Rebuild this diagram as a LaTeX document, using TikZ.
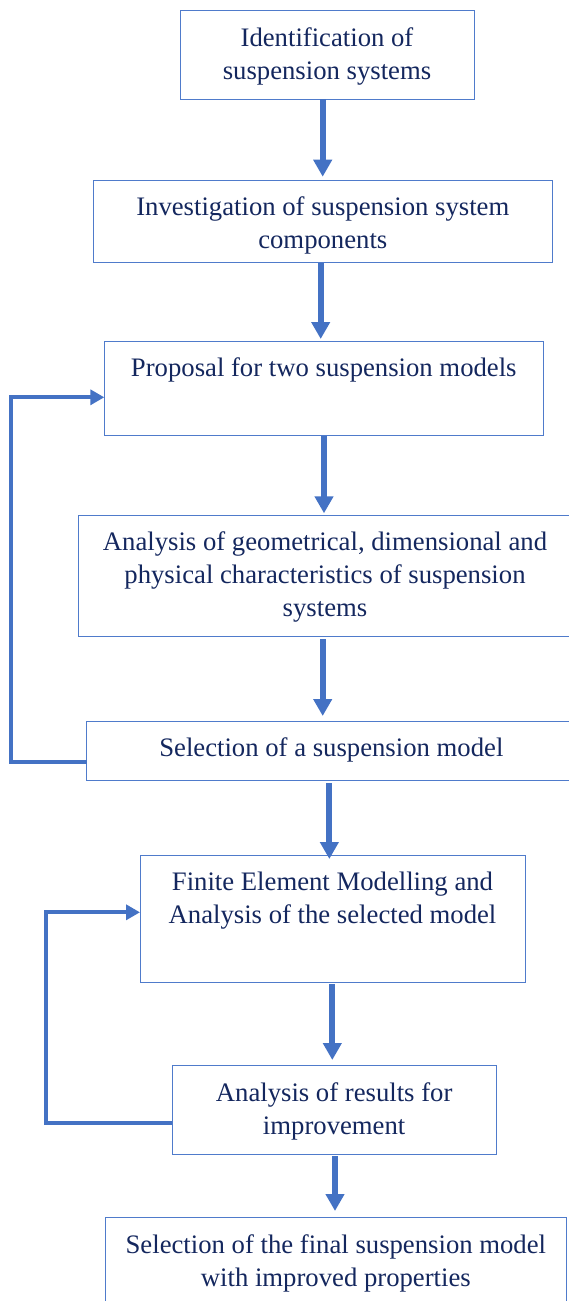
\documentclass[tikz,border=0pt]{standalone}
\usepackage{fontspec}
\setmainfont{Liberation Serif}
\usetikzlibrary{arrows.meta}
\definecolor{arrblue}{HTML}{4472C4}
\definecolor{boxblue}{HTML}{4F7BCB}
\definecolor{txtnavy}{HTML}{14275E}
\begin{document}
\begin{tikzpicture}[x=1pt,y=-1pt,
  boxst/.style={draw=boxblue, line width=1pt, inner sep=0pt, outer sep=0pt, anchor=north west},
  txt/.style={anchor=north, align=center, inner sep=0pt, outer sep=0pt, text=txtnavy,
    font=\fontsize{26.7}{33}\selectfont},
  arr/.style={draw=arrblue, line width=6pt, -{Triangle[length=17pt,width=18pt]}},
  fb/.style={draw=arrblue, line width=4pt, line join=miter, -{Triangle[length=14pt,width=15pt]}}]
\useasboundingbox (0,0) rectangle (569,1301);
\clip (0,0) rectangle (569,1301);
% boxes
\node[boxst, minimum width=294pt, minimum height=88.3pt] (b1) at (180,10.7) {};
\node[boxst, minimum width=459pt, minimum height=82.7pt] (b2) at (93.3,180) {};
\node[boxst, minimum width=439pt, minimum height=94.4pt] (b3) at (104.3,341.3) {};
\node[boxst, minimum width=492.6pt, minimum height=121pt] (b4) at (78.7,515) {};
\node[boxst, minimum width=489.3pt, minimum height=59.7pt] (b5) at (86.7,721) {};
\node[boxst, minimum width=385pt, minimum height=127.3pt] (b6) at (140,855) {};
\node[boxst, minimum width=323.7pt, minimum height=88.6pt] (b7) at (172.3,1065.7) {};
\node[boxst, minimum width=460.3pt, minimum height=95pt] (b8) at (105.7,1217.7) {};
% texts
\node[txt] (t1) at ([yshift=-12.4pt]b1.north) {\strut Identification of\\suspension systems};
\node[txt] (t2) at ([yshift=-12.4pt]b2.north) {\strut Investigation of suspension system\\components};
\node[txt] (t3) at ([yshift=-12.4pt]b3.north) {\strut Proposal for two suspension models};
\node[txt] (t4) at ([yshift=-12.4pt]b4.north) {\strut Analysis of geometrical, dimensional and\\physical characteristics of suspension\\systems};
\node[txt] (t5) at ([yshift=-12.4pt]b5.north) {\strut Selection of a suspension model};
\node[txt] (t6) at ([yshift=-12.4pt]b6.north) {\strut Finite Element Modelling and\\Analysis of the selected model};
\node[txt] (t7) at ([yshift=-12.4pt]b7.north) {\strut Analysis of results for\\improvement};
\node[txt] (t8) at ([yshift=-12.4pt]b8.north) {\strut Selection of the final suspension model\\with improved properties};
% main arrows
\draw[arr, shorten >=3.3pt] ([xshift=-4.3pt]b1.south) -- ([xshift=-4.3pt]b1.south |- b2.north);
\draw[arr, shorten >=2.3pt] ([xshift=-2.1pt]b2.south) -- ([xshift=-2.1pt]b2.south |- b3.north);
\draw[arr, shorten >=1.7pt] ([xshift=0.2pt]b3.south) -- ([xshift=0.2pt]b3.south |- b4.north);
\draw[arr, shorten <=3pt, shorten >=5pt] ([xshift=-2.3pt]b4.south) -- ([xshift=-2.3pt]b4.south |- b5.north);
\draw[arr, shorten <=2.3pt, shorten >=-4pt] ([xshift=-2pt]b5.south) -- ([xshift=-2pt]b5.south |- b6.north);
\draw[arr, shorten <=1.7pt, shorten >=5.7pt] ([xshift=-0.2pt]b6.south) -- ([xshift=-0.2pt]b6.south |- b7.north);
\draw[arr, shorten <=1.7pt, shorten >=6.7pt] ([xshift=0.85pt]b7.south) -- ([xshift=0.85pt]b7.south |- b8.north);
% feedback loops
\coordinate (l1) at (11.3,0);
\coordinate (l2) at (45.8,0);
\draw[fb] ([yshift=-11.45pt]b5.west) -- ([yshift=-11.45pt]b5.west -| l1) |- ([yshift=-8.8pt]b3.west);
\draw[fb] ([yshift=-13.3pt]b7.west) -- ([yshift=-13.3pt]b7.west -| l2) |- ([yshift=6.35pt]b6.west);
\end{tikzpicture}
\end{document}
